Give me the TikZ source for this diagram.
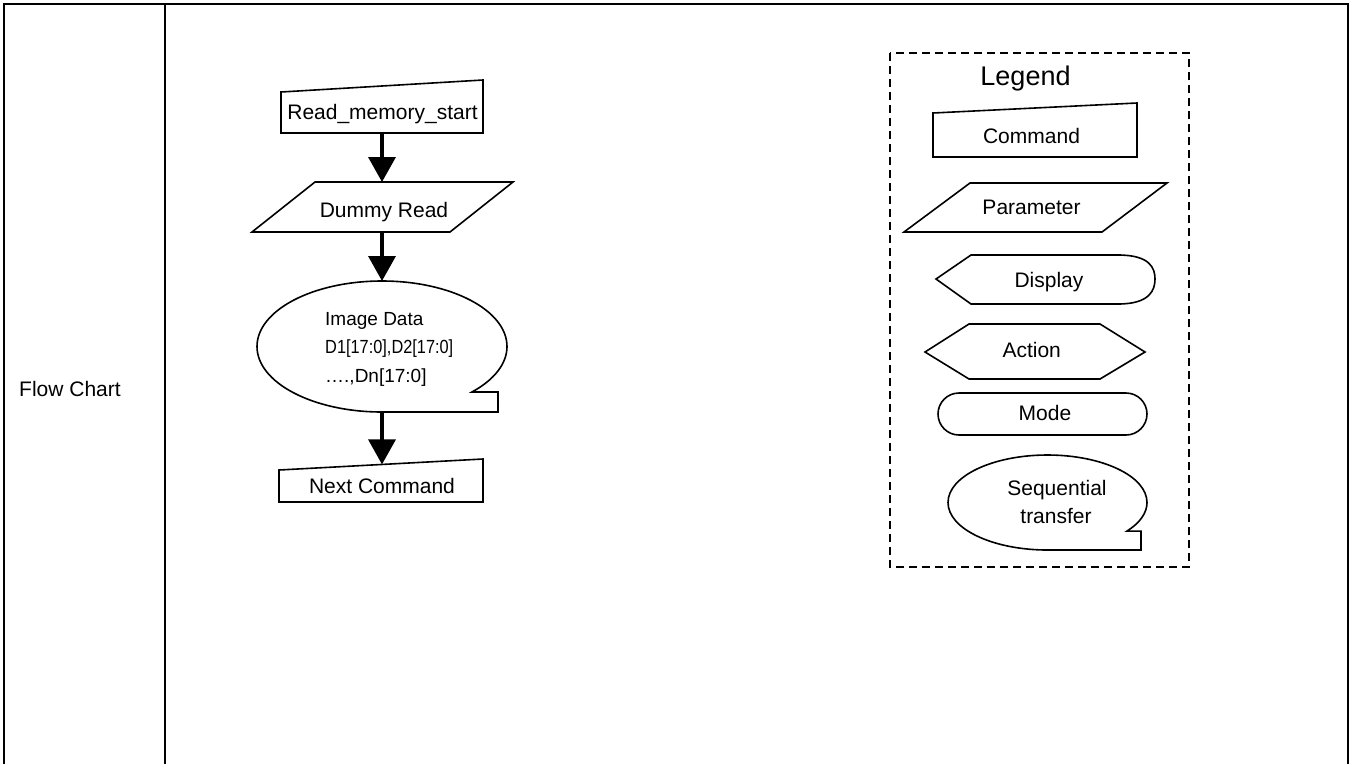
\documentclass[tikz,border=0pt]{standalone}
\usepackage{fontspec}
\setmainfont{Liberation Sans}
\usetikzlibrary{arrows.meta}
\begin{document}
\begin{tikzpicture}[x=1pt,y=-1pt,
  outline/.style={draw=black, line width=1.6pt, line join=miter},
  flow/.style={line width=3.5pt, -{Triangle[length=25pt,width=27pt]}},
  frame/.style={line width=2.6pt},
  lbl/.style={font=\fontsize{21}{25}\selectfont, anchor=base, inner sep=0pt},
  small/.style={font=\fontsize{19}{23}\selectfont, anchor=base west, inner sep=0pt},
]
\useasboundingbox (0,0) rectangle (1354,764);

% table frame
\draw[frame] (4,764) -- (4,4) -- (1348,4) -- (1348,764);
\draw[frame] (165,4) -- (165,764);
\node[lbl, anchor=base west] (fc) at (19,396) {Flow Chart};

% Read_memory_start (command)
\draw[outline] (281,92) -- (483,80) -- (483,133) -- (281,133) -- cycle;
\node[lbl] (rms) at (382.5,119) {Read\_memory\_start};
\coordinate (rms-s) at (382,133);

% Dummy Read (parameter)
\draw[outline] (315,182) -- (513,182) -- (450,232) -- (252,232) -- cycle;
\node[lbl] (dr) at (384,217) {Dummy Read};
\coordinate (dr-n) at (382,182);
\coordinate (dr-s) at (382,232);

% Image Data (sequential transfer)
\draw[outline] (382,412) arc[start angle=90, end angle=404, x radius=125, y radius=65.5]
  -- (498,392) -- (498,412) -- cycle;
\node[small] (img1) at (325,325) {Image Data};
\node[small] (img2) at (325,353) {\scalebox{0.86}[1]{D1[17:0],D2[17:0]}};
\node[small] (img3) at (325,382) {….,Dn[17:0]};
\coordinate (img-n) at (382,281);
\coordinate (img-s) at (382,412);

% Next Command
\draw[outline] (279,470) -- (483,459) -- (483,502) -- (279,502) -- cycle;
\node[lbl] (nc) at (382,493) {Next Command};
\coordinate (nc-n) at (382,464.4);

% connectors
\draw[flow] (rms-s) -- (dr-n);
\draw[flow] (dr-s) -- (img-n);
\draw[flow] (img-s) -- (nc-n);

% Legend
\draw[line width=2.8pt, dash pattern=on 8pt off 5pt] (890,53) rectangle (1189,567);
\node[font=\fontsize{27}{32}\selectfont, anchor=base, inner sep=0pt] (leg) at (1025.5,85) {Legend};

\draw[outline] (933,113) -- (1137,103) -- (1137,157) -- (933,157) -- cycle;
\node[lbl] (lcmd) at (1031.5,143) {Command};

\draw[outline] (970,183) -- (1167,183) -- (1102,232) -- (904,232) -- cycle;
\node[lbl] (lpar) at (1031.5,214) {Parameter};

\draw[outline] (936,279) -- (971,255) -- (1118,255)
  .. controls (1150,255) and (1155,268) .. (1155,279)
  .. controls (1155,290) and (1150,304) .. (1118,304)
  -- (971,304) -- cycle;
\node[lbl] (ldis) at (1049,287) {Display};

\draw[outline] (925,352) -- (969,324) -- (1100,324) -- (1145,352) -- (1100,379) -- (969,379) -- cycle;
\node[lbl] (lact) at (1031.7,357.3) {Action};

\draw[outline, rounded corners=21pt] (938,393) rectangle (1147,435);
\node[lbl] (lmode) at (1045,420) {Mode};

\draw[outline] (1047.5,550) arc[start angle=90, end angle=397, x radius=99.5, y radius=47.5]
  -- (1141,531.1) -- (1141,550) -- cycle;
\node[lbl] (lseq1) at (1057,495) {Sequential};
\node[lbl] (lseq2) at (1056,523) {transfer};
\end{tikzpicture}
\end{document}
